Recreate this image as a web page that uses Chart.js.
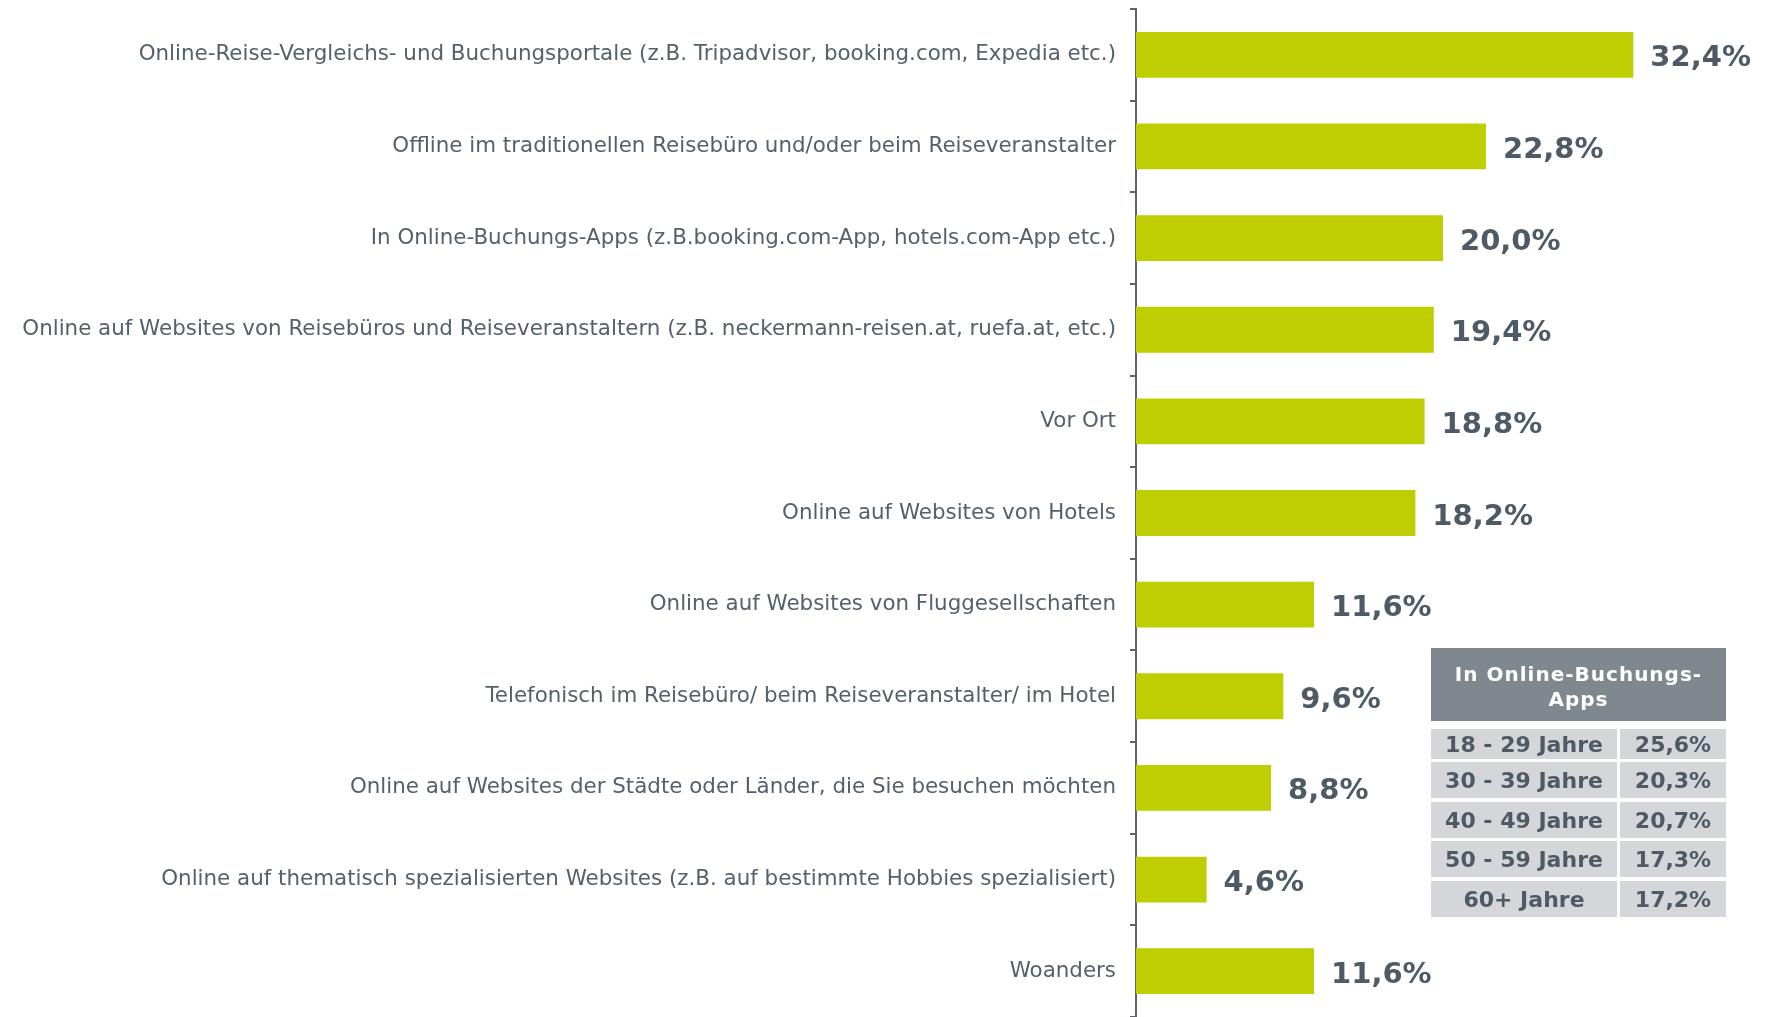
<!DOCTYPE html>
<html>
<head>
<meta charset="utf-8">
<script src="https://cdn.jsdelivr.net/npm/chart.js@4.4.0/dist/chart.umd.min.js"></script>
<style>
    html, body { margin: 0; padding: 0; background: #fff; }
    #wrap { position: relative; width: 1772px; height: 1017px; }
    #chart { position: absolute; left: 0; top: 0; }
    #ageTable { position: absolute; left: 1431px; top: 648px; width: 295px; font-family: "DejaVu Sans", sans-serif; font-weight: bold; }
    #ageTable .head { background: #7f878f; color: #fff; height: 73px; font-size: 20px; line-height: 25px; text-align: center; display: flex; align-items: center; justify-content: center; letter-spacing: 1px; padding-top: 4px; box-sizing: border-box; }
    #ageTable .row { display: flex; color: #4f5a66; font-size: 22px; }
    #ageTable .row div { background: #d4d6da; display: flex; align-items: center; justify-content: center; }
    #ageTable .row .c1 { width: 186px; margin-right: 3px; }
    #ageTable .row .c2 { width: 106px; }
</style>
</head>
<body>
<div id="wrap">
    <canvas id="chart" width="1772" height="1017"></canvas>
    <div id="ageTable"></div>
</div>
<script>
// Kategorien
const categories = [
    'Online-Reise-Vergleichs- und Buchungsportale (z.B. Tripadvisor, booking.com, Expedia etc.)',
    'Offline im traditionellen Reisebüro und/oder beim Reiseveranstalter',
    'In Online-Buchungs-Apps (z.B.booking.com-App, hotels.com-App etc.)',
    'Online auf Websites von Reisebüros und Reiseveranstaltern (z.B. neckermann-reisen.at, ruefa.at, etc.)',
    'Vor Ort',
    'Online auf Websites von Hotels',
    'Online auf Websites von Fluggesellschaften',
    'Telefonisch im Reisebüro/ beim Reiseveranstalter/ im Hotel',
    'Online auf Websites der Städte oder Länder, die Sie besuchen möchten',
    'Online auf thematisch spezialisierten Websites (z.B. auf bestimmte Hobbies spezialisiert)',
    'Woanders'
];

// Werte in %
const values = [32.4, 22.8, 20.0, 19.4, 18.8, 18.2, 11.6, 9.6, 8.8, 4.6, 11.6];

// Tabelle: In Online-Buchungs-Apps nach Alter
const tableTitle = ['In Online-Buchungs-', 'Apps'];
const ageGroups = ['18 - 29 Jahre', '30 - 39 Jahre', '40 - 49 Jahre', '50 - 59 Jahre', '60+ Jahre'];
const ageValues = [25.6, 20.3, 20.7, 17.3, 17.2];
const rowHeights = [30, 36, 36, 36, 36];
const rowGaps = [8, 3, 4, 3, 4];

function formatPct(v) {
    return v.toFixed(1).replace('.', ',') + '%';
}

// Tabelle aufbauen
let html = `<div class="head">${tableTitle.join('<br>')}</div>`;
ageGroups.forEach(function (g, i) {
    html += `<div class="row" style="height:${rowHeights[i]}px;margin-top:${rowGaps[i]}px"><div class="c1">${g}</div><div class="c2">${formatPct(ageValues[i])}</div></div>`;
});
document.getElementById('ageTable').innerHTML = html;

// Werte-Labels rechts neben den Balken
const valueLabels = {
    id: 'valueLabels',
    afterDatasetsDraw(chart) {
        const ctx = chart.ctx;
        const meta = chart.getDatasetMeta(0);
        ctx.save();
        ctx.font = 'bold 29px "DejaVu Sans", sans-serif';
        ctx.fillStyle = '#4e5a65';
        ctx.textAlign = 'left';
        ctx.textBaseline = 'middle';
        meta.data.forEach(function (bar, i) {
            ctx.fillText(formatPct(values[i]), bar.x + 17, bar.y + 4);
        });
        ctx.restore();
    }
};

const ctx = document.getElementById('chart').getContext('2d');
new Chart(ctx, {
    type: 'bar',
    data: {
        labels: categories,
        datasets: [{
            data: values,
            backgroundColor: '#bfce00',
            borderWidth: 0,
            barPercentage: 1,
            categoryPercentage: 0.5
        }]
    },
    options: {
        indexAxis: 'y',
        responsive: false,
        animation: false,
        layout: { padding: { top: 9, bottom: 0, left: 0, right: 22 } },
        plugins: {
            legend: { display: false },
            tooltip: { enabled: false }
        },
        scales: {
            x: {
                display: false,
                min: 0,
                max: 40
            },
            y: {
                afterFit: function (scale) {
                    scale.width = 1136;
                    scale.paddingTop = 0;
                    scale.paddingBottom = 0;
                },
                border: { display: true, color: '#5a6470', width: 2 },
                grid: {
                    offset: true,
                    drawOnChartArea: false,
                    drawTicks: true,
                    tickLength: 6,
                    color: '#5a6470',
                    lineWidth: 2
                },
                ticks: {
                    color: '#55606b',
                    padding: 14,
                    autoSkip: false,
                    font: { family: '"DejaVu Sans", sans-serif', size: 21.4 }
                }
            }
        }
    },
    plugins: [valueLabels]
});
</script>
</body>
</html>
